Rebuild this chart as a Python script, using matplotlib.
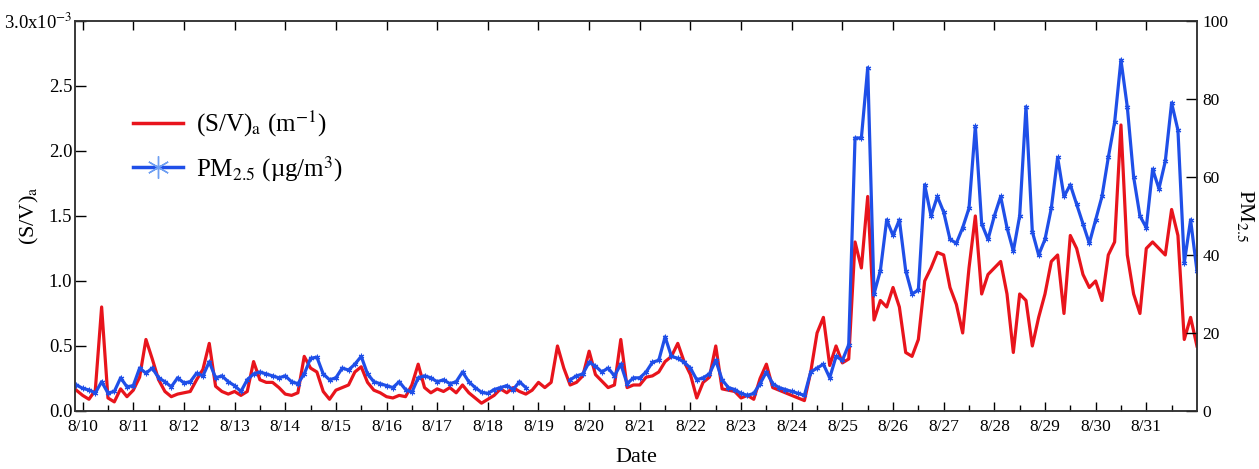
import numpy as np
import matplotlib.pyplot as plt
from matplotlib.lines import Line2D

plt.rcParams['font.family'] = ['Liberation Serif', 'DejaVu Serif']
plt.rcParams['mathtext.fontset'] = 'stix'

# 3-hourly samples; first at 8/9 21:00, then 8 per day, last at 9/1 00:00
start_day = -0.125      # days relative to 8/10 00:00
step_day = 0.125

# (S/V)a in units of 1e-3 m^-1
sv = [0.16,
      0.12, 0.09, 0.16, 0.80, 0.10, 0.07, 0.17, 0.11,   # 8/10
      0.16, 0.26, 0.55, 0.40, 0.24, 0.15, 0.11, 0.13,   # 8/11
      0.14, 0.15, 0.24, 0.32, 0.52, 0.19, 0.15, 0.13,   # 8/12
      0.15, 0.12, 0.15, 0.38, 0.24, 0.22, 0.22, 0.18,   # 8/13
      0.13, 0.12, 0.14, 0.42, 0.33, 0.30, 0.15, 0.09,   # 8/14
      0.16, 0.18, 0.20, 0.30, 0.34, 0.22, 0.16, 0.14,   # 8/15
      0.11, 0.10, 0.12, 0.11, 0.20, 0.36, 0.18, 0.14,   # 8/16
      0.17, 0.15, 0.18, 0.14, 0.20, 0.14, 0.10, 0.06,   # 8/17
      0.09, 0.12, 0.17, 0.14, 0.18, 0.15, 0.13, 0.16,   # 8/18
      0.22, 0.18, 0.22, 0.50, 0.33, 0.20, 0.22, 0.27,   # 8/19
      0.46, 0.28, 0.23, 0.18, 0.20, 0.55, 0.18, 0.20,   # 8/20
      0.20, 0.26, 0.27, 0.30, 0.38, 0.42, 0.52, 0.38,   # 8/21
      0.28, 0.10, 0.22, 0.26, 0.50, 0.17, 0.16, 0.15,   # 8/22
      0.10, 0.12, 0.09, 0.25, 0.36, 0.18, 0.16, 0.14,   # 8/23
      0.12, 0.10, 0.08, 0.30, 0.60, 0.72, 0.35, 0.50,   # 8/24
      0.37, 0.40, 1.30, 1.10, 1.65, 0.70, 0.85, 0.80,   # 8/25
      0.95, 0.80, 0.45, 0.42, 0.55, 1.00, 1.10, 1.22,   # 8/26
      1.20, 0.95, 0.82, 0.60, 1.10, 1.50, 0.90, 1.05,   # 8/27
      1.10, 1.15, 0.90, 0.45, 0.90, 0.85, 0.50, 0.72,   # 8/28
      0.90, 1.15, 1.20, 0.75, 1.35, 1.25, 1.05, 0.95,   # 8/29
      1.00, 0.85, 1.20, 1.30, 2.20, 1.20, 0.90, 0.75,   # 8/30
      1.25, 1.30, 1.25, 1.20, 1.55, 1.35, 0.55, 0.72,   # 8/31
      0.50]

# PM2.5 in ug/m3 (None = no data)
pm = [6.7,
      5.8, 5.4, 4.6, 7.5, 4.6, 5.0, 8.5, 6.2,           # 8/10
      6.5, 11.0, 9.7, 11.0, 8.5, 7.5, 6.2, 8.5,         # 8/11
      7.2, 7.5, 9.7, 9.0, 12.6, 8.5, 9.0, 7.5,          # 8/12
      6.5, 5.0, 8.0, 9.5, 10.0, 9.5, 9.0, 8.5,          # 8/13
      9.0, 7.5, 7.0, 9.5, 13.5, 13.8, 9.5, 8.0,         # 8/14
      8.5, 11.0, 10.5, 12.0, 14.0, 9.5, 7.5, 7.0,       # 8/15
      6.5, 6.0, 7.5, 5.5, 4.8, 8.5, 9.0, 8.5,           # 8/16
      7.5, 8.0, 7.0, 7.5, 10.0, 7.5, 6.0, 4.8,          # 8/17
      4.5, 5.5, 6.0, 6.5, 5.5, 7.5, 6.0, None,          # 8/18
      None, None, None, None, None, 8.0, 9.0, 9.5,      # 8/19
      12.5, 11.5, 10.0, 11.0, 9.0, 12.0, 7.0, 8.5,      # 8/20
      8.5, 10.0, 12.5, 13.0, 19.0, 14.0, 13.5, 12.5,    # 8/21
      11.0, 8.0, 8.5, 9.5, 13.0, 8.0, 6.0, 5.5,         # 8/22
      4.5, 4.0, 4.5, 7.0, 10.0, 7.0, 6.0, 5.5,          # 8/23
      5.0, 4.5, 4.0, 10.0, 11.0, 12.0, 8.5, 14.0,       # 8/24
      13.0, 17.0, 70.0, 70.0, 88.0, 30.0, 36.0, 49.0,   # 8/25
      45.0, 49.0, 36.0, 30.0, 31.0, 58.0, 50.0, 55.0,   # 8/26
      51.0, 44.0, 43.0, 47.0, 52.0, 73.0, 48.0, 44.0,   # 8/27
      50.0, 55.0, 47.0, 41.0, 50.0, 78.0, 46.0, 40.0,   # 8/28
      44.0, 52.0, 65.0, 55.0, 58.0, 53.0, 48.0, 43.0,   # 8/29
      49.0, 55.0, 65.0, 74.0, 90.0, 78.0, 60.0, 50.0,   # 8/30
      47.0, 62.0, 57.0, 64.0, 79.0, 72.0, 38.0, 49.0,   # 8/31
      36.0]

day_labels = ['8/10', '8/11', '8/12', '8/13', '8/14', '8/15', '8/16', '8/17',
              '8/18', '8/19', '8/20', '8/21', '8/22', '8/23', '8/24', '8/25',
              '8/26', '8/27', '8/28', '8/29', '8/30', '8/31']
sv_ticklabels = ['0.0', '0.5', '1.0', '1.5', '2.0', '2.5', r'3.0x10$^{-3}$']

RED = '#e8141c'
BLUE = '#1f4fe8'
LIGHTBLUE = '#6f9ff2'

sv = np.array(sv, dtype=float) * 1e-3
pm = np.array(pm, dtype=float)
t = start_day + step_day * np.arange(len(sv))

fig = plt.figure(figsize=(12.59, 4.69), dpi=100)
ax = fig.add_axes([0.0596, 0.1237, 0.8911, 0.8316])
ax.plot(t, sv, color=RED, lw=2.3)

ax2 = ax.twinx()
ax2.plot(t, pm, color=BLUE, lw=2.3, marker=(6, 2, 0), ms=4, mew=0.8)

ax.set_xlim(-0.15, 22.0)
ax.set_ylim(0, 3.0e-3)
ax2.set_ylim(0, 100)

days = np.arange(len(day_labels))
ax.set_xticks(days)
ax.set_xticklabels(day_labels)
ax.set_xticks(days + 0.5, minor=True)
ax.set_yticks(np.arange(7) * 0.5e-3)
ax.set_yticklabels(sv_ticklabels)
ax2.set_yticks(np.arange(0, 101, 20))

ax.tick_params(axis='x', which='major', direction='in', length=6.5, width=1,
               top=True, labelsize=12.5, pad=6)
ax.tick_params(axis='x', which='minor', direction='in', length=4.3, width=1,
               top=False)
ax.tick_params(axis='y', direction='in', length=8, width=1, labelsize=13.5,
               pad=2)
ax2.tick_params(axis='y', direction='in', length=8, width=1, labelsize=12.5,
                pad=4)
for a in (ax, ax2):
    for s in a.spines.values():
        s.set_linewidth(1.1)
        s.set_color('#333333')

ax.set_xlabel('Date', fontsize=16, labelpad=9)
ax.set_ylabel(r'(S/V)$_\mathrm{a}$', fontsize=16)
ax.yaxis.set_label_coords(-0.030, 0.5)
ax2.set_ylabel(r'PM$_{2.5}$', fontsize=16, rotation=270, labelpad=20)

handles = [Line2D([], [], color=RED, lw=2.5),
           Line2D([], [], color=BLUE, lw=2.5, marker=(6, 2, 0), ms=16,
                  mec=LIGHTBLUE, mew=1)]
labels = [r'(S/V)$_\mathrm{a}$ (m$^{-1}$)', r'PM$_{2.5}$ (µg/m$^{3}$)']
ax2.legend(handles, labels, loc='upper left', bbox_to_anchor=(0.052, 0.775),
           frameon=False, fontsize=18, handlelength=2.0, handletextpad=0.5,
           labelspacing=0.6, borderpad=0, borderaxespad=0)

fig.savefig('out.png', dpi=100)
